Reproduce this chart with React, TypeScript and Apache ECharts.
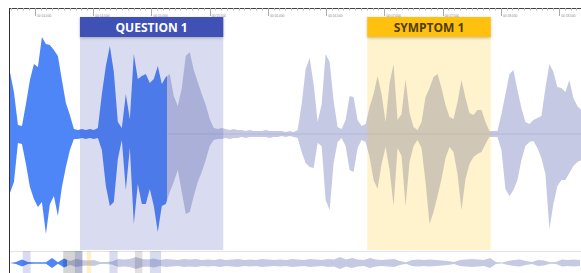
import React, { useEffect, useRef } from "react";
import * as echarts from "echarts";

// ---- main view time axis (seconds)
const VIEW_START = 13.5;
const VIEW_END = 18.7;
const TICK_STEP = 0.5;
const SAMPLE_T0 = 13.785;
const SAMPLE_DT = 0.0343;
const PLAYHEAD = 15.13;
const Y_MIN = -116;
const Y_MAX = 117;
const BAND_BOTTOM = 97;

// waveform envelope (amplitude above / below centre), one value per sample
const WAVE_TOP = [
  62, 42, 9, 8, 30, 54, 70, 67, 97, 90,
  89, 84, 78, 54, 31, 19, 5, 4, 5, 4,
  5, 4, 6, 40, 68, 88, 62, 12, 6, 40,
  15, 80, 55, 58, 60, 51, 55, 68, 50, 57,
  60, 38, 28, 46, 78, 82, 64, 52, 40, 29,
  15, 6, 5, 6, 5, 4, 5, 4, 4, 3,
  4, 3, 3, 3, 4, 3, 3, 3, 3, 2,
  3, 2, 4, 30, 65, 76, 50, 12, 30, 80,
  72, 33, 7, 5, 14, 38, 37, 14, 8, 10,
  27, 40, 58, 40, 12, 51, 70, 14, 20, 55,
  21, 7, 4, 12, 37, 46, 57, 60, 46, 29,
  17, 15, 32, 54, 36, 21, 19, 24, 24, 12,
  3, 3, 3, 20, 40, 60, 64, 44, 26, 12,
  10, 14, 16, 18, 46, 70, 62, 47, 46, 42,
  54, 36, 28, 24,
];
const WAVE_BOTTOM = [
  59, 48, 9, 10, 30, 53, 65, 73, 68, 100,
  70, 62, 82, 53, 33, 16, 5, 5, 4, 5,
  4, 5, 4, 16, 52, 72, 68, 25, 6, 56,
  14, 90, 50, 70, 70, 55, 72, 98, 72, 70,
  58, 48, 36, 58, 80, 78, 62, 48, 38, 26,
  12, 6, 5, 5, 4, 5, 4, 4, 3, 4,
  3, 3, 3, 3, 3, 4, 3, 3, 2, 3,
  2, 3, 4, 18, 29, 33, 34, 9, 12, 66,
  76, 29, 8, 4, 12, 36, 38, 14, 6, 8,
  23, 46, 55, 30, 13, 36, 72, 14, 22, 72,
  28, 12, 6, 14, 48, 90, 78, 62, 45, 24,
  13, 18, 40, 76, 45, 30, 23, 20, 18, 10,
  3, 3, 3, 16, 55, 62, 56, 46, 26, 12,
  8, 7, 14, 24, 40, 95, 70, 52, 46, 46,
  39, 32, 28, 26,
];

// annotated regions (seconds)
const REGION_LABELS = ["QUESTION 1", "SYMPTOM 1"];
const REGION_STARTS = [14.386, 16.852];
const REGION_ENDS = [15.616, 17.912];
const REGION_COLORS = ["#3f51b5", "#ffc107"];
const REGION_SHADES = ["rgba(63,81,181,0.2)", "rgba(255,193,7,0.2)"];
const REGION_TEXT = ["#ffffff", "#4e3d0a"];

// ---- overview strip (whole recording, seconds)
const OV_END = 152.27;
const OV_DT = 1.6;
const OV_AMP = [
  0, 1, 3.5, 1, 0.8, 0.8, 0.8, 5, 0.8, 4.5,
  2, 4, 3, 2.5, 3, 1, 1, 1.5, 4, 3.5,
  4, 6, 4, 3.5, 4.5, 3, 4, 3.5, 3, 4,
  3.5, 4, 3, 3.5, 3, 4, 3, 3.5, 4, 3,
  3.5, 3, 4, 3.5, 3, 3.5, 3, 4, 3.5, 3,
  4, 3.5, 3, 4, 3.5, 6, 3.5, 5, 3.5, 3,
  5, 3.5, 3, 3.5, 4, 2, 0.8, 3, 3.5, 3,
  3.5, 3, 2.5, 2, 1, 3, 3.5, 4, 3.5, 3,
  5, 1, 0.6, 2, 3, 3.5, 2, 1, 3, 2.5,
  0.8, 1, 3.5, 3, 3.5, 3,
];
const OV_STARTS = [3.4, 14.2, 17.3, 20.5, 26.5, 33.3, 37.3];
const OV_ENDS = [5.5, 19.3, 19.3, 21.6, 28.7, 35.3, 40.3];
const OV_SHADES = [
  "rgba(63,81,181,0.2)",
  "rgba(0,0,0,0.17)",
  "rgba(63,81,181,0.2)",
  "rgba(255,193,7,0.25)",
  "rgba(63,81,181,0.2)",
  "rgba(0,0,0,0.12)",
  "rgba(63,81,181,0.2)",
];

const PLAYED = "#4f86f7";
const UNPLAYED = "#c6c9e3";
const W = 581;

const fmtTime = (v: number) => {
  // edge ticks of the scrolled view fall outside the visible strip
  if (v <= VIEW_START + 1e-6 || v >= VIEW_END - 0.1) return "";
  const m = Math.floor(v / 60 + 1e-9);
  const s = v - m * 60;
  return String(m).padStart(2, "0") + ":" + s.toFixed(3).padStart(6, "0");
};

const splitFill = (px: number) => {
  const p = Math.min(1, Math.max(0, px / W));
  return new echarts.graphic.LinearGradient(
    0, 0, W, 0,
    [
      { offset: 0, color: PLAYED },
      { offset: p, color: PLAYED },
      { offset: p, color: UNPLAYED },
      { offset: 1, color: UNPLAYED },
    ],
    true
  );
};

export default function App() {
  const ref = useRef<HTMLDivElement>(null);
  useEffect(() => {
    if (!ref.current) return;
    const chart = echarts.init(ref.current, undefined, { renderer: "svg" });

    const mainTop = WAVE_TOP.map((a, i) => [SAMPLE_T0 + i * SAMPLE_DT, a]);
    const mainBot = WAVE_BOTTOM.map((a, i) => [SAMPLE_T0 + i * SAMPLE_DT, -a]);
    const ovTop = OV_AMP.map((a, i) => [i * OV_DT, a]);
    const ovBot = OV_AMP.map((a, i) => [i * OV_DT, -a]);

    const waveSeries = (id: string, data: number[][], axis: number, fill: any) => ({
      id,
      type: "line",
      xAxisIndex: axis,
      yAxisIndex: axis,
      data,
      symbol: "none",
      showSymbol: false,
      silent: true,
      lineStyle: { width: 0 },
      areaStyle: { opacity: 1, color: fill },
      z: 2,
    });

    const regionData = REGION_LABELS.map((_, i) => [REGION_STARTS[i], REGION_ENDS[i], i]);
    const ovData = OV_STARTS.map((s, i) => [s, OV_ENDS[i], i]);

    chart.setOption({
      animation: false,
      grid: [
        { left: -23.25, right: -1.55, top: 17, height: 233, containLabel: false, outerBoundsMode: "none" },
        { left: 10, right: 0, top: 251, height: 24, containLabel: false, outerBoundsMode: "none" },
      ],
      xAxis: [
        {
          gridIndex: 0,
          type: "value",
          position: "top",
          offset: 9,
          min: VIEW_START,
          max: VIEW_END,
          interval: TICK_STEP,
          axisLine: { show: true, onZero: false, lineStyle: { color: "#444", width: 1 } },
          axisTick: { show: true, inside: true, length: 8, lineStyle: { color: "#aaa" } },
          minorTick: { show: true, splitNumber: 10, length: 2.5, lineStyle: { color: "#bbb" } },
          axisLabel: {
            show: true,
            inside: true,
            margin: 6,
            align: "left",
            verticalAlign: "top",
            padding: [0, 0, 0, 2],
            fontSize: 3.2,
            fontFamily: "Liberation Sans",
            color: "#888",
            formatter: fmtTime,
          },
          splitLine: { show: false },
        },
        {
          gridIndex: 1,
          type: "value",
          position: "top",
          min: 0,
          max: OV_END,
          axisLine: { show: true, onZero: false, lineStyle: { color: "#e1e3ef" } },
          axisTick: { show: false },
          axisLabel: { show: false },
          splitLine: { show: false },
        },
      ],
      yAxis: [
        { gridIndex: 0, type: "value", min: Y_MIN, max: Y_MAX, show: false },
        { gridIndex: 1, type: "value", min: -12, max: 12, show: false },
      ],
      series: [
        waveSeries("mt", mainTop, 0, UNPLAYED),
        waveSeries("mb", mainBot, 0, UNPLAYED),
        waveSeries("ot", ovTop, 1, UNPLAYED),
        waveSeries("ob", ovBot, 1, UNPLAYED),
        {
          type: "line",
          xAxisIndex: 0,
          yAxisIndex: 0,
          data: [
            [PLAYHEAD, 0],
            [VIEW_END, 0],
          ],
          symbol: "none",
          silent: true,
          lineStyle: { color: "#b3b6d6", width: 1 },
          z: 3,
        },
        {
          type: "custom",
          xAxisIndex: 0,
          yAxisIndex: 0,
          silent: true,
          z: 5,
          data: regionData,
          renderItem: (params: any, api: any) => {
            const s = api.value(0);
            const e = api.value(1);
            const i = api.value(2);
            const p0 = api.coord([s, Y_MAX]);
            const p1 = api.coord([e, Y_MIN]);
            const pb = api.coord([e, BAND_BOTTOM]);
            const w = p1[0] - p0[0];
            return {
              type: "group",
              children: [
                {
                  type: "rect",
                  shape: { x: p0[0], y: p0[1], width: w, height: p1[1] - p0[1] },
                  style: { fill: REGION_SHADES[i] },
                },
                {
                  type: "rect",
                  shape: { x: p0[0], y: p0[1], width: w, height: pb[1] - p0[1] },
                  style: {
                    fill: REGION_COLORS[i],
                    shadowBlur: 3,
                    shadowColor: "rgba(0,0,0,0.25)",
                    shadowOffsetY: 1,
                  },
                },
                {
                  type: "text",
                  x: p0[0] + w / 2,
                  y: (p0[1] + pb[1]) / 2 + 0.5,
                  style: {
                    text: REGION_LABELS[i],
                    fill: REGION_TEXT[i],
                    fontWeight: "bold",
                    fontSize: 12,
                    fontFamily: "Open Sans",
                    align: "center",
                    verticalAlign: "middle",
                  },
                },
              ],
            };
          },
        },
        {
          type: "custom",
          xAxisIndex: 1,
          yAxisIndex: 1,
          silent: true,
          z: 5,
          data: ovData,
          renderItem: (params: any, api: any) => {
            const s = api.value(0);
            const e = api.value(1);
            const i = api.value(2);
            const p0 = api.coord([s, 12]);
            const p1 = api.coord([e, -12]);
            return {
              type: "rect",
              shape: { x: p0[0], y: p0[1], width: p1[0] - p0[0], height: p1[1] - p0[1] },
              style: { fill: OV_SHADES[i] },
            };
          },
        },
      ],
      graphic: [
        { type: "rect", z: 100, shape: { x: 0, y: 0, width: 9.5, height: 273 }, style: { fill: "#ffffff" } },
        { type: "line", z: 101, shape: { x1: 9.5, y1: 8, x2: 9.5, y2: 273 }, style: { stroke: "#333", lineWidth: 1 } },
      ],
    });

    const pxMain = chart.convertToPixel({ xAxisIndex: 0 }, PLAYHEAD) as number;
    const pxOv = chart.convertToPixel({ xAxisIndex: 1 }, PLAYHEAD) as number;
    chart.setOption({
      series: [
        { id: "mt", areaStyle: { color: splitFill(pxMain) } },
        { id: "mb", areaStyle: { color: splitFill(pxMain) } },
        { id: "ot", areaStyle: { color: splitFill(pxOv) } },
        { id: "ob", areaStyle: { color: splitFill(pxOv) } },
      ],
    });
    return () => chart.dispose();
  }, []);
  return (
    <div
      ref={ref}
      style={{ position: "absolute", left: 0, top: 0, width: 581, height: 273 }}
    />
  );
}
